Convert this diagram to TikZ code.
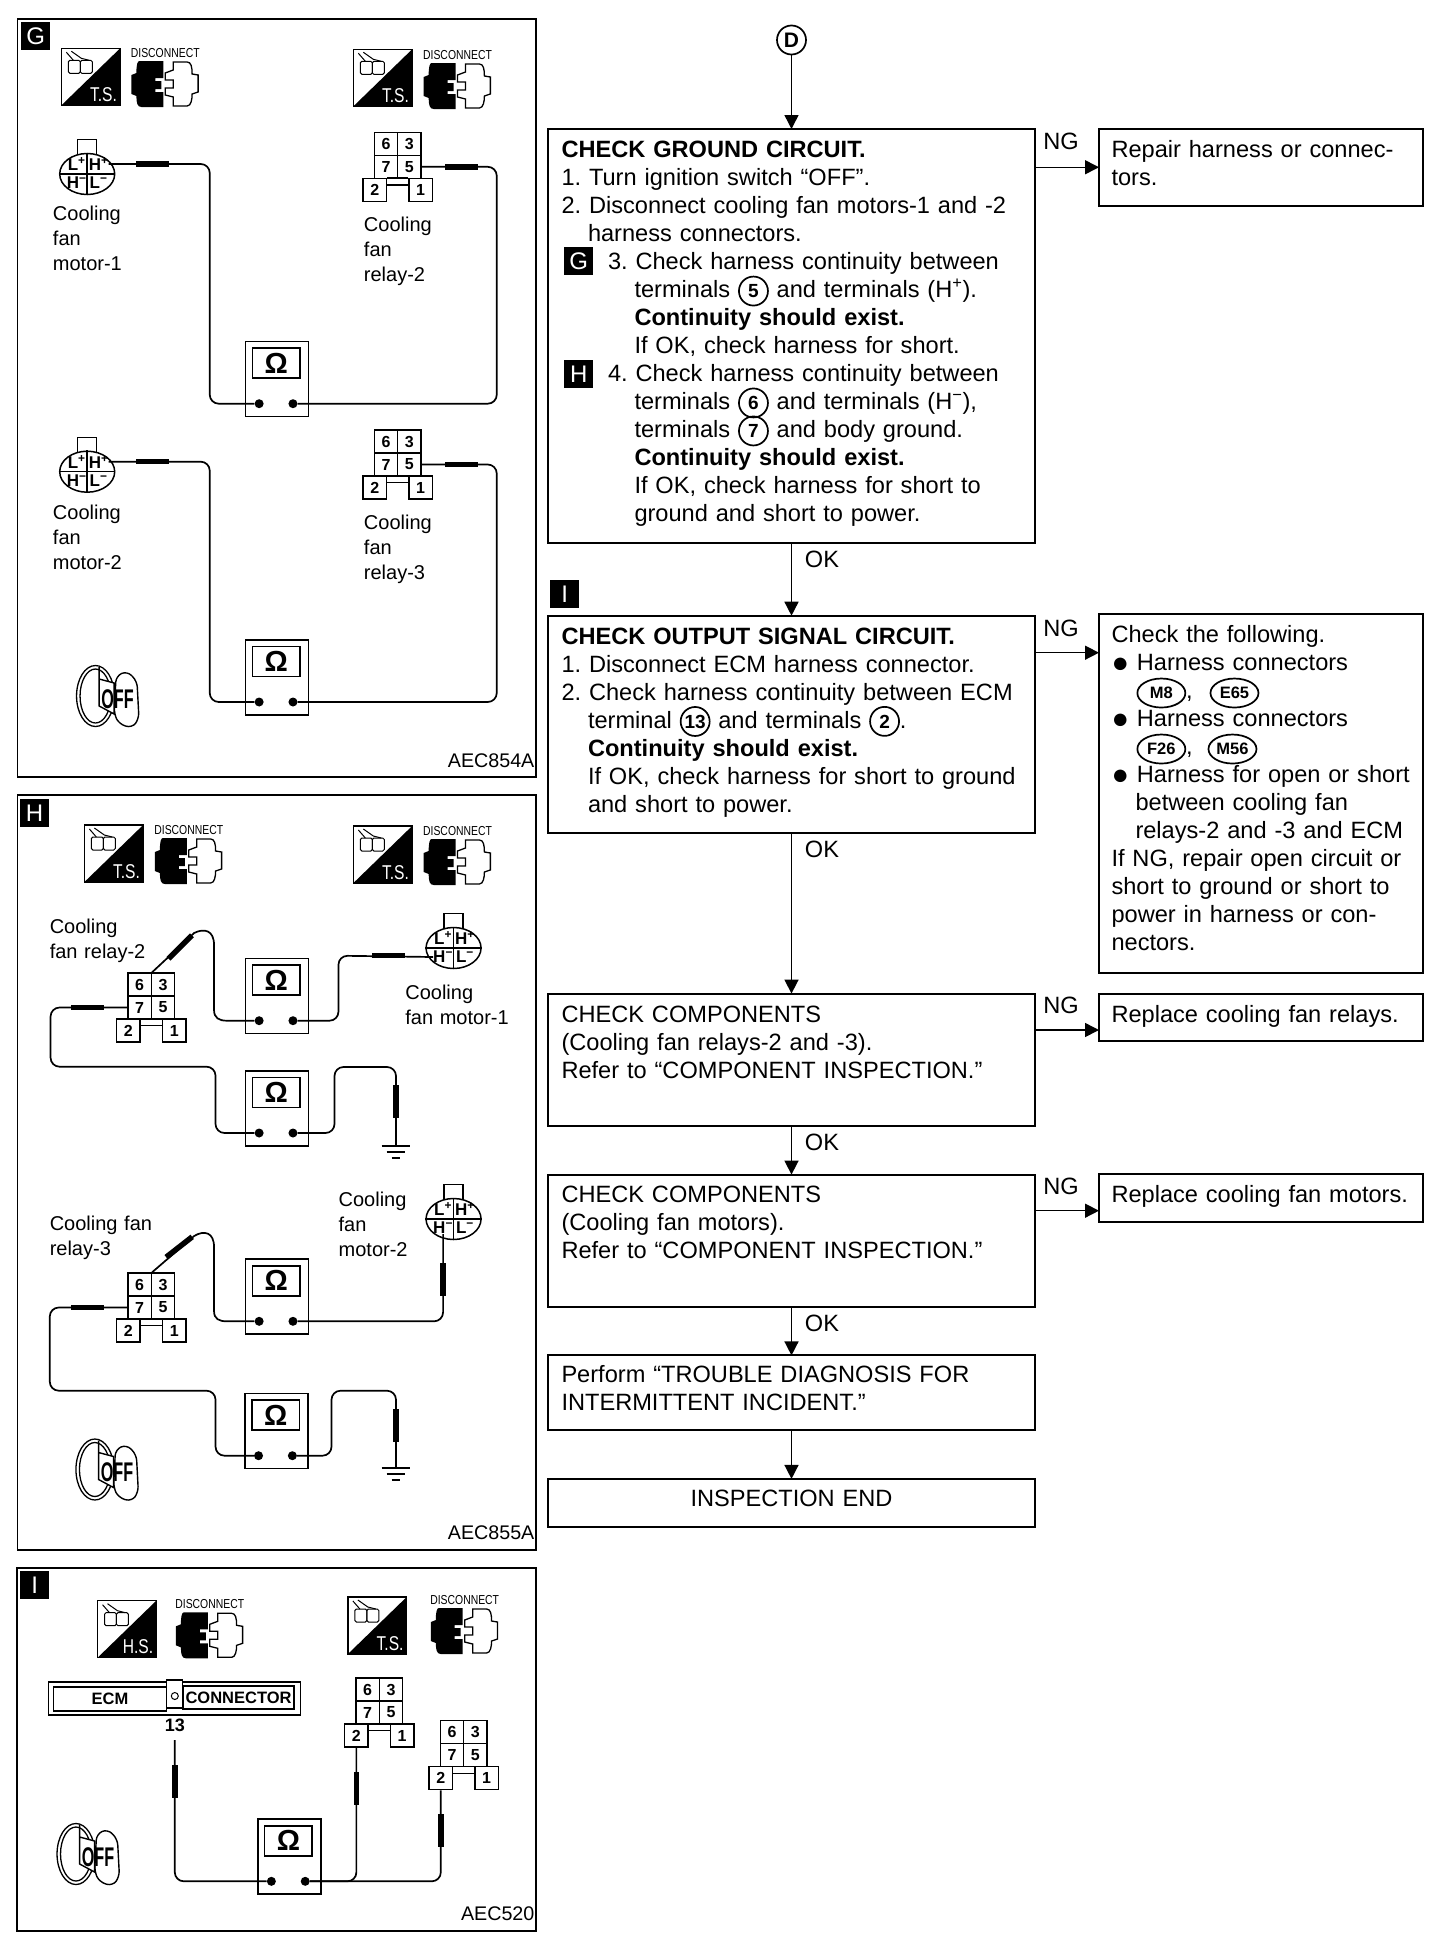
\documentclass[tikz,border=0pt]{standalone}
\usepackage{fontspec}
\usepackage{graphicx}
\setmainfont{Liberation Sans}
\frenchspacing
\usetikzlibrary{positioning,arrows.meta,shapes.geometric}

\newcommand{\fsz}[2]{\fontsize{#1}{#2}\selectfont}
\newcommand{\numc}[1]{\smash{\tikz[baseline=(nc.base)] \node[numring] (nc) {#1};}}
\newcommand{\ovalc}[1]{\smash{\tikz[baseline=(oc.base)] \node[numoval] (oc) {#1};}}
\newcommand{\bigdot}{\raisebox{-2pt}{\fsz{29}{28}●}}

\tikzset{
  panelbox/.style={draw, line width=1.8pt, anchor=north west, inner sep=0pt, outer sep=0pt},
  badge/.style={fill=black, text=white, font=\fsz{24}{28}, inner sep=0pt, minimum width=29pt, minimum height=28pt},
  stepbox/.style={draw, line width=2pt, inner xsep=13.2pt, inner ysep=0pt, outer sep=0pt, text width=460pt, align=left, font=\fsz{23.6}{28}},
  fixbox/.style={draw, line width=2pt, anchor=north west, inner xsep=12.5pt, inner ysep=0pt, outer sep=0pt, text width=299pt, align=left, font=\fsz{23.6}{28}},
  numring/.style={draw, circle, line width=1.7pt, inner sep=0pt, minimum size=29pt, text width={}, text height={}, text depth={}, align=center, font=\fsz{19}{19}\bfseries},
  numoval/.style={draw, ellipse, line width=1.7pt, inner sep=0pt, minimum width=48pt, minimum height=29pt, text width={}, text height={}, text depth={}, align=center, font=\fsz{16.5}{17}\bfseries},
  verdict/.style={font=\fsz{23.6}{28}, inner sep=0pt},
  flow/.style={line width=1.5pt, -{Triangle[length=14pt,width=14pt]}},
  wire/.style={line width=1.7pt, rounded corners=9pt},
  probeh/.style={fill=black, inner sep=0pt, minimum width=33pt, minimum height=5.5pt},
  probev/.style={fill=black, inner sep=0pt, minimum width=5.5pt, minimum height=33pt},
  partlabel/.style={anchor=north west, inner sep=0pt, text width=140pt, text height=15pt, align=left, font=\fsz{20}{25}},
  figcode/.style={anchor=base east, inner sep=0pt, font=\fsz{19.7}{24}},
  relaycell/.style={draw, fill=white, line width=1.4pt, inner sep=0pt, minimum width=23.5pt, minimum height=23pt, font=\fsz{16}{16}\bfseries},
  pins/.style={inner sep=0pt, font=\fsz{17}{17}\bfseries},
  pics/relayblock/.style={code={
    \foreach \lbl/\cx/\cy in {6/-11.75/-34.5, 3/11.75/-34.5, 7/-11.75/-11.5, 5/11.75/-11.5, 2/-23/11.5, 1/23/11.5}
      \node[relaycell] (-c\lbl) at (\cx,\cy) {\lbl};
    \draw[line width=1pt] (-c2.north east) -- (-c1.north west);
    \draw[line width=1.4pt] ([yshift=5pt]-c2.east) -- ([yshift=5pt]-c1.west);
  }},
  pics/fanplug/.style={code={
    \draw[line width=1.3pt, fill=white] (-9.5,-34.5) rectangle (9.5,-18);
    \node[draw, ellipse, fill=white, line width=1.5pt, inner sep=0pt, minimum width=55pt, minimum height=41pt] (-body) at (0,0) {};
    \draw[line width=1.5pt] (-body.north) -- (-body.south);
    \draw[line width=1.5pt] (-body.west) -- (-body.east);
    \node[pins] (-lp) at (-10.5,-10) {L\textsuperscript{+}};
    \node[pins] (-hp) at (11.5,-10) {H\textsuperscript{+}};
    \node[pins] (-hm) at (-10.5,9) {H\textsuperscript{−}};
    \node[pins] (-lm) at (11.5,9) {L\textsuperscript{−}};
  }},
  pics/ohmmeter/.style={code={
    \node[draw, line width=1.5pt, anchor=north west, inner sep=0pt, minimum width=63pt, minimum height=75pt] (-body) at (0,0) {};
    \node[draw, line width=1.5pt, inner sep=0pt, minimum width=47.5pt, minimum height=30pt, font=\fsz{29}{30}\bfseries] (-scr) at (31.5,22.5) {Ω};
    \node[circle, fill=black, inner sep=0pt, minimum size=9pt] (-l) at (14.3,63) {};
    \node[circle, fill=black, inner sep=0pt, minimum size=9pt] (-r) at (48.3,63) {};
  }},
  pics/svcicon/.style={code={
    \draw[line width=1.4pt, fill=white] (0,0) rectangle (59,57);
    \fill[black] (0,57) -- (59,0) -- (59,57) -- cycle;
    \node[anchor=base east, inner sep=0pt, text=white, font=\fsz{20}{20}] (-tag) at (56,53) {\scalebox{.78}[1]{#1}};
    \draw[line width=1pt, rounded corners=1.5pt] (7,12) rectangle (19,25);
    \draw[line width=1pt, rounded corners=1.5pt] (19,12) rectangle (31,25);
    \draw[line width=1pt] (5,4) -- (12,12);
    \draw[line width=1pt] (10,3) -- (20,10) -- (28,12);
  }},
  pics/unplug/.style={code={
    \node[inner sep=0pt, font=\fsz{13}{14}] (-cap) at (34,5) {\scalebox{.8}[1]{DISCONNECT}};
    \fill[black] (8,13) -- (32,13) -- (32,30) -- (24,30) -- (24,33) -- (30,33) -- (30,41) -- (24,41) -- (24,44) -- (32,44) -- (32,59) -- (10,59) .. controls (6,59) and (5,55) .. (5,48) -- (0,46) -- (0,27) -- (5,25) .. controls (5,17) and (6,13) .. (8,13) -- cycle;
    \draw[line width=1.3pt, fill=white] (42,14) -- (42,22) -- (34,25) -- (34,32) -- (42,32) -- (42,40) -- (34,40) -- (34,47) -- (42,49) -- (42,58) -- (56,58) .. controls (60,58) and (61,51) .. (61,46) -- (67,44) -- (67,27) -- (61,26) .. controls (61,19) and (60,14) .. (56,14) -- cycle;
  }},
  pics/offkey/.style={code={
    \draw[line width=1.3pt, fill=white] (-11.7,0) ellipse [x radius=19, y radius=30.5];
    \draw[line width=1.3pt] (-11.7,0) ellipse [x radius=15.5, y radius=27];
    \draw[line width=1.4pt, fill=white, rounded corners=6pt] (9,-20) -- (20,-25) -- (30,-15) -- (32,23) -- (25,32) -- (12,28) -- (7,18) -- cycle;
    \draw[line width=1.4pt, fill=white] (-8,-29) -- (-8,10) -- (7,18) -- (7,-13) -- (-8,-17);
    \node[inner sep=0pt, font=\fsz{27}{27}\bfseries] (-off) at (10.5,3) {\scalebox{.6}[1]{OFF}};
  }},
  pics/earthmark/.style={code={
    \coordinate (-top) at (0,0);
    \draw[line width=1.8pt] (-14.5,0) -- (14.5,0);
    \draw[line width=1.8pt] (-9.5,6) -- (9.5,6);
    \draw[line width=1.8pt] (-4.5,12) -- (4.5,12);
  }},
}

\begin{document}
\begin{tikzpicture}[x=1pt, y=-1pt]
\useasboundingbox (0,0) rectangle (1456,1938);
\fill[white] (0,0) rectangle (1456,1938);

\begin{scope}[x=.9955pt]
% panel G
\node[panelbox, minimum width=518.3pt, minimum height=757.7pt] (panelg) at (17.5,19.3) {};
\node[badge, anchor=north west] (badgeg) at (21,22) {G};
\pic (tsga) at (61.7,48.3) {svcicon=T.S.};
\pic (dcga) at (132,48) {unplug};
\pic (tsgb) at (355,49.3) {svcicon=T.S.};
\pic (dcgb) at (425.6,50) {unplug};
\pic (mga) at (87.6,174) {fanplug};
\pic (mgb) at (87.6,471.7) {fanplug};
\pic (rga) at (399.5,178.3) {relayblock};
\pic (rgb) at (399.5,476) {relayblock};
\pic (ohga) at (246,340.7) {ohmmeter};
\pic (ohgb) at (246,639) {ohmmeter};
\draw[wire] (mga-hp.east) -| (210.7,403.7) -- (ohga-l);
\draw[wire] (ohga-r) -| (499,166.8) -- (rga-c5.east);
\draw[wire] (mgb-hp.east) -| (210.7,702) -- (ohgb-l);
\draw[wire] (ohgb-r) -| (499,464.5) -- (rgb-c5.east);
\node[probeh] (pga) at (153,164) {};
\node[probeh] (pgb) at (464,166.8) {};
\node[probeh] (pgc) at (153,461.7) {};
\node[probeh] (pgd) at (464,464.5) {};
\node[partlabel] (lbga) at (53,205.7) {Cooling\\fan\\motor-1};
\node[partlabel] (lbgb) at (365.4,216) {Cooling\\fan\\relay-2};
\node[partlabel] (lbgc) at (53,504) {Cooling\\fan\\motor-2};
\node[partlabel] (lbgd) at (365.4,514) {Cooling\\fan\\relay-3};
\pic (keyg) at (107.6,696) {offkey};
\node[figcode] (codeg) at (537,767) {AEC854A};

% panel H
\node[panelbox, minimum width=518.3pt, minimum height=755pt] (panelh) at (17.5,795) {};
\node[badge, anchor=north west] (badgeh) at (20,799) {H};
\pic (tsha) at (84.8,825) {svcicon=T.S.};
\pic (dcha) at (155.6,825) {unplug};
\pic (tshb) at (355,826) {svcicon=T.S.};
\pic (dchb) at (425.6,826) {unplug};
\pic (rha) at (152,1019) {relayblock};
\pic (rhb) at (152,1319) {relayblock};
\pic (mha) at (455.6,948) {fanplug};
\pic (mhb) at (455.6,1219) {fanplug};
\pic (ohha) at (246,957.7) {ohmmeter};
\pic (ohhb) at (246,1070) {ohmmeter};
\pic (ohhc) at (246,1258.3) {ohmmeter};
\pic (ohhd) at (245.4,1392.7) {ohmmeter};
\pic (gnha) at (397.8,1146) {earthmark};
\pic (gnhb) at (397.8,1468.3) {earthmark};
\draw[line width=1.7pt] (rha-c6.north east) -- (195,933) .. controls (205,928) and (215,930) .. (215,945) -- (215,1010) .. controls (215,1018) and (220,1020.7) .. (228,1020.7) -- (ohha-l);
\draw[wire] (ohha-r) -| (340,955.7) -- (mha-hm.west);
\draw[wire] (rha-c7.west) -| (50.8,1066.7) -| (216.5,1133) -- (ohhb-l);
\draw[wire] (ohhb-r) -| (336,1067) -| (gnha-top);
\draw[line width=1.7pt] (rhb-c6.north east) -- (195,1236) .. controls (205,1230) and (215,1232) .. (215,1247) -- (215,1311) .. controls (215,1319) and (220,1321.3) .. (228,1321.3) -- (ohhc-l);
\draw[wire] (ohhc-r) -| (mhb-hm.south);
\draw[wire] (rhb-c7.west) -| (50,1390.7) -| (216.5,1455.7) -- (ohhd-l);
\draw[wire] (ohhd-r) -| (333,1390.7) -| (gnhb-top);
\node[probeh, rotate=45] (pha) at (181,947) {};
\node[probeh] (phb) at (390.5,955.7) {};
\node[probeh] (phc) at (88,1007.5) {};
\node[probev] (phd) at (397.8,1101.5) {};
\node[probeh, rotate=38] (phe) at (180,1247) {};
\node[probev] (phf) at (445,1279.5) {};
\node[probeh] (phg) at (88,1307.5) {};
\node[probev] (phh) at (397.8,1425) {};
\node[partlabel] (lbha) at (49.8,918) {Cooling\\fan relay-2};
\node[partlabel] (lbhb) at (407,984) {Cooling\\fan motor-1};
\node[partlabel] (lbhc) at (49.8,1215) {Cooling fan\\relay-3};
\node[partlabel] (lbhd) at (340,1191) {Cooling\\fan\\motor-2};
\pic (keyh) at (107,1469.5) {offkey};
\node[figcode] (codeh) at (537,1539.3) {AEC855A};

% panel I
\node[panelbox, minimum width=518.8pt, minimum height=363pt] (paneli) at (17,1568) {};
\node[badge, anchor=north west] (badgei) at (20,1571) {I};
\pic (hsia) at (98,1600.7) {svcicon=H.S.};
\pic (dcia) at (176.7,1599.3) {unplug};
\pic (tsib) at (349.5,1597) {svcicon=T.S.};
\pic (dcib) at (432.8,1595) {unplug};
\node[draw, line width=1.6pt, inner sep=0pt, minimum width=252pt, minimum height=33pt] (ecmbar) at (175.2,1698.4) {};
\node[draw, line width=1.4pt, inner sep=0pt, minimum width=113pt, minimum height=24pt, font=\fsz{16.5}{17}\bfseries] (ecmleft) at (110.5,1699) {ECM};
\node[draw, line width=1.4pt, inner sep=0pt, minimum width=111pt, minimum height=23pt, font=\fsz{16.5}{17}\bfseries] (ecmright) at (239.6,1697.5) {CONNECTOR};
\draw[line width=1.4pt, fill=white] (167,1680) rectangle (183.5,1708);
\node[draw, circle, line width=1pt, inner sep=0pt, minimum size=7pt] (ecmpin) at (175.6,1696) {};
\node[inner sep=0pt, font=\fsz{18}{20}\bfseries] (ecmno) at (175.6,1725.7) {13};
\pic (ria) at (381,1724) {relayblock};
\pic (rib) at (465.8,1766.7) {relayblock};
\pic (ohi) at (258.3,1818.3) {ohmmeter};
\coordinate (tipi) at (175.6,1740);
\draw[wire] (tipi) |- (ohi-l);
\draw[wire] (ohi-r) -| (ria-c2.south);
\draw[wire] (ohi-r) -| (rib-c2.south);
\node[probev] (pia) at (175.6,1781) {};
\node[probev] (pib) at (358,1788) {};
\node[probev] (pic) at (442.8,1830.5) {};
\pic (keyi) at (88,1854) {offkey};
\node[figcode] (codei) at (537,1920) {AEC520};
\end{scope}

% flow chart
\node[draw, circle, line width=1.7pt, inner sep=0pt, minimum size=29pt, font=\fsz{21}{22}\bfseries] (startd) at (791.5,40) {D};
\node[stepbox, anchor=north, text height=28.5pt, text depth=385.5pt] (gndbox) at (791.5,129) {\textbf{CHECK GROUND CIRCUIT.}\\
1. Turn ignition switch “OFF”.\\
2. Disconnect cooling fan motors-1 and -2\\
\hspace*{26.5pt}harness connectors.\\
\hspace*{46.5pt}3. Check harness continuity between\\
\hspace*{73pt}terminals \numc{5} and terminals (H\textsuperscript{+}).\\
\hspace*{73pt}\textbf{Continuity should exist.}\\
\hspace*{73pt}If OK, check harness for short.\\
\hspace*{46.5pt}4. Check harness continuity between\\
\hspace*{73pt}terminals \numc{6} and terminals (H\textsuperscript{−}),\\
\hspace*{73pt}terminals \numc{7} and body ground.\\
\hspace*{73pt}\textbf{Continuity should exist.}\\
\hspace*{73pt}If OK, check harness for short to\\
\hspace*{73pt}ground and short to power.};
\node[stepbox, below=72.7pt of gndbox, text height=28.3pt, text depth=189pt] (sigbox) {\textbf{CHECK OUTPUT SIGNAL CIRCUIT.}\\
1. Disconnect ECM harness connector.\\
2. Check harness continuity between ECM\\
\hspace*{26.5pt}terminal \numc{13} and terminals \numc{2}.\\
\hspace*{26.5pt}\textbf{Continuity should exist.}\\
\hspace*{26.5pt}If OK, check harness for short to ground\\
\hspace*{26.5pt}and short to power.};
\node[stepbox, below=160.6pt of sigbox, text height=28.4pt, text depth=103.6pt] (relbox) {CHECK COMPONENTS\\
(Cooling fan relays-2 and -3).\\
Refer to “COMPONENT INSPECTION.”};
\node[stepbox, below=49pt of relbox, text height=28pt, text depth=104.3pt] (motbox) {CHECK COMPONENTS\\
(Cooling fan motors).\\
Refer to “COMPONENT INSPECTION.”};
\node[stepbox, below=48.5pt of motbox, text height=27.2pt, text depth=47.3pt] (perfbox) {Perform “TROUBLE DIAGNOSIS FOR\\
INTERMITTENT INCIDENT.”};
\node[stepbox, below=49pt of perfbox, text height=28pt, text depth=20pt, align=center] (endbox) {INSPECTION END};

\node[fixbox, text height=28.5pt, text depth=48pt] (fixa) at (1099,129) {Repair harness or connec-\\tors.};
\node[fixbox, text height=28.7pt, text depth=330pt] (fixb) at (1099,614) {Check the following.\\
\bigdot{} Harness connectors\\
\hspace*{25pt}\ovalc{M8}, \hspace{9pt}\ovalc{E65}\\
\bigdot{} Harness connectors\\
\hspace*{25pt}\ovalc{F26}, \hspace{7pt}\ovalc{M56}\\
\bigdot{} Harness for open or short\\
\hspace*{24pt}between cooling fan\\
\hspace*{24pt}relays-2 and -3 and ECM\\
If NG, repair open circuit or\\
short to ground or short to\\
power in harness or con-\\
nectors.};
\node[fixbox, text height=28.4pt, text depth=19pt] (fixc) at (1099,993.6) {Replace cooling fan relays.};
\node[fixbox, text height=28.7pt, text depth=19.3pt] (fixd) at (1099,1174) {Replace cooling fan motors.};

\node[badge, anchor=north west] (markg) at (564,247) {G};
\node[badge, anchor=north west] (markh) at (564,360) {H};
\node[badge, anchor=north west] (marki) at (550,580) {I};

\coordinate (ngb) at (1099,652.7);
\coordinate (ngc) at (1099,1030);
\coordinate (ngd) at (1099,1210.7);
\draw[flow] (startd) -- (gndbox);
\draw[flow] (gndbox) -- (sigbox);
\draw[flow] (sigbox) -- (relbox);
\draw[flow] (relbox) -- (motbox);
\draw[flow] (motbox) -- (perfbox);
\draw[flow] (perfbox) -- (endbox);
\draw[flow] (gndbox.east |- fixa.west) -- (fixa.west);
\draw[flow] (sigbox.east |- ngb) -- (ngb);
\draw[flow] (relbox.east |- ngc) -- (ngc);
\draw[flow] (motbox.east |- ngd) -- (ngd);

\node[verdict] (nga) at (1061,141) {NG};
\node[verdict] (ngbl) at (1061,628) {NG};
\node[verdict] (ngcl) at (1061,1005) {NG};
\node[verdict] (ngdl) at (1061,1186) {NG};
\node[verdict] (oka) at (822,559) {OK};
\node[verdict] (okb) at (822,849) {OK};
\node[verdict] (okc) at (822,1142.7) {OK};
\node[verdict] (okd) at (822,1323) {OK};
\end{tikzpicture}
\end{document}
